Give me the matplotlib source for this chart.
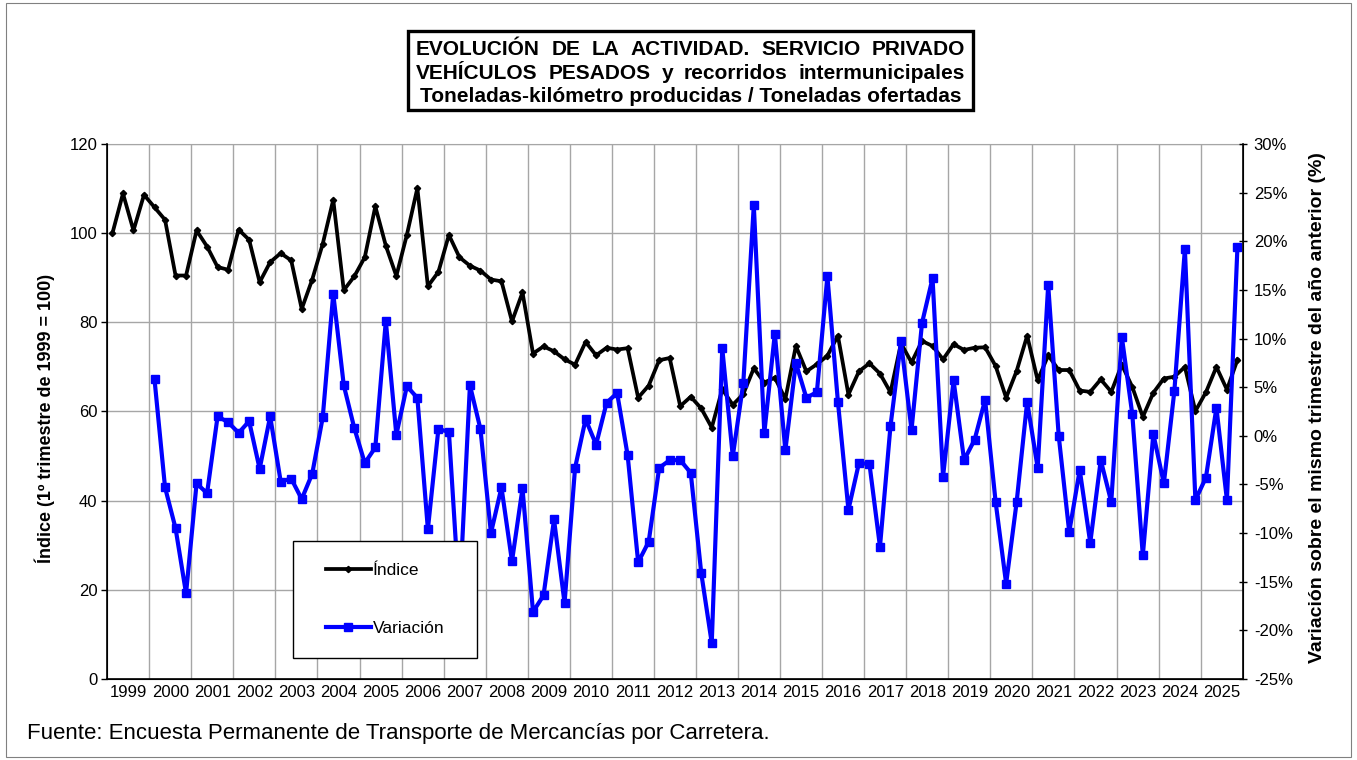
import numpy as np
import matplotlib
matplotlib.use('Agg')
import matplotlib.pyplot as plt
from matplotlib.patches import Rectangle
from matplotlib.ticker import FuncFormatter

plt.rcParams['font.family'] = ['Liberation Sans', 'DejaVu Sans']

# datos trimestrales 1999T1 - 2025T4
years = [str(y) for y in range(1999, 2026)]

indice = [
    100.0, 108.9, 100.6, 108.6,   # 1999
    105.8, 103.0, 90.5, 90.5,     # 2000
    100.6, 97.0, 92.4, 91.8,      # 2001
    100.8, 98.5, 89.0, 93.5,      # 2002
    95.5, 93.9, 83.0, 89.6,       # 2003
    97.6, 107.5, 87.2, 90.3,      # 2004
    94.6, 106.0, 97.2, 90.4,      # 2005
    99.6, 110.1, 88.1, 91.3,      # 2006
    99.6, 94.6, 92.7, 91.6,       # 2007
    89.6, 89.2, 80.2, 86.7,       # 2008
    73.0, 74.6, 73.5, 71.7,       # 2009
    70.5, 75.6, 72.6, 74.3,       # 2010
    73.9, 74.2, 63.1, 65.8,       # 2011
    71.5, 72.0, 61.2, 63.3,       # 2012
    60.7, 56.4, 65.0, 61.5,       # 2013
    63.9, 69.7, 66.5, 67.6,       # 2014
    62.8, 74.7, 69.0, 70.6,       # 2015
    72.5, 77.0, 63.8, 69.0,       # 2016
    70.8, 68.5, 64.3, 75.3,       # 2017
    71.0, 75.8, 74.7, 71.7,       # 2018
    75.1, 73.8, 74.3, 74.4,       # 2019
    70.2, 63.1, 69.1, 77.0,       # 2020
    67.0, 72.6, 69.3, 69.3,       # 2021
    64.7, 64.4, 67.2, 64.4,       # 2022
    70.5, 65.5, 58.8, 64.2,       # 2023
    67.4, 67.8, 70.0, 60.1,       # 2024
    64.3, 70.0, 64.9, 71.6,       # 2025
]

# variacion interanual (%), empieza en 2000T1
variacion = [
    np.nan, np.nan, np.nan, np.nan,  # 1999
    5.8, -5.3, -9.5, -16.2,
    -4.9, -5.9, 2.0, 1.4,
    0.3, 1.5, -3.4, 2.0,
    -4.7, -4.4, -6.5, -3.9,
    1.9, 14.6, 5.2, 0.8,
    -2.8, -1.2, 11.8, 0.1,
    5.1, 3.9, -9.6, 0.7,
    0.4, -16.9, 5.2, 0.7,
    -10.0, -5.3, -12.9, -5.4,
    -18.1, -16.4, -8.6, -17.2,
    -3.3, 1.7, -0.9, 3.4,
    4.4, -2.0, -13.0, -10.9,
    -3.3, -2.5, -2.5, -3.8,
    -14.1, -21.3, 9.0, -2.1,
    5.4, 23.7, 0.3, 10.5,
    -1.5, 7.5, 3.9, 4.5,
    16.4, 3.5, -7.6, -2.8,
    -2.9, -11.4, 1.0, 9.7,
    0.6, 11.6, 16.2, -4.2,
    5.7, -2.5, -0.4, 3.7,
    -6.8, -15.2, -6.8, 3.5,
    -3.3, 15.5, 0.0, -9.9,
    -3.5, -11.0, -2.5, -6.8,
    10.2, 2.2, -12.3, 0.2,
    -4.9, 4.6, 19.2, -6.6,
    -4.3, 2.9, -6.6, 19.4,
]

W, H = 1357, 760
fig = plt.figure(figsize=(W / 100, H / 100), dpi=100)

# marco exterior
fig.patches.append(Rectangle((6 / W, 3 / H), 1 - 12 / W, 1 - 6 / H, transform=fig.transFigure,
                             fill=False, ec='#808080', lw=0.8))

ax = fig.add_axes([107.2 / W, 1 - 679 / H, (1242.7 - 107.2) / W, (679 - 144) / H])
x = np.arange(len(indice))

l1, = ax.plot(x, indice, color='black', lw=2.7, marker='D', ms=3.2, label='Índice')
ax.set_xlim(-0.5, len(indice) - 0.5)
ax.set_ylim(0, 120)
ax.set_yticks(range(0, 121, 20))
ax.set_xticks([4 * k + 1.5 for k in range(len(years))], labels=years)
ax.set_xticks([4 * k - 0.5 for k in range(1, len(years))], minor=True)
ax.tick_params(axis='x', which='both', length=0, pad=4, labelsize=12)
ax.tick_params(axis='y', length=4, width=1, pad=3, labelsize=12)
ax.grid(axis='y', which='major', color='#a6a6a6', lw=1)
ax.grid(axis='x', which='minor', color='#a6a6a6', lw=1)
ax.set_axisbelow(True)
for s in ['left', 'bottom']:
    ax.spines[s].set_linewidth(1.2)
ax.spines['top'].set_color('#a6a6a6')

ax2 = ax.twinx()
l2, = ax2.plot(x, variacion, color='#0000ff', lw=3.0, marker='s', ms=5.5, label='Variación')
ax2.set_ylim(-25, 30)
ax2.set_yticks(range(-25, 31, 5))
ax2.yaxis.set_major_formatter(FuncFormatter(lambda v, p: '%d%%' % v))
ax2.tick_params(axis='y', direction='inout', length=6, width=1, pad=5, labelsize=12)
ax2.spines['right'].set_linewidth(1.2)
ax2.spines['top'].set_visible(False)

# leyenda con su recuadro
ax2.add_patch(Rectangle((0.1636, 0.039), 0.162, 0.219, transform=ax2.transAxes,
                        fc='white', ec='black', lw=1, zorder=5))
leg = ax2.legend([l1, l2], ['Índice', 'Variación'], loc='center', bbox_to_anchor=(0.2447, 0.1486),
                 frameon=False, fontsize=12.5, labelspacing=2.5, handlelength=2.6,
                 handletextpad=0.1, borderpad=0, borderaxespad=0)
leg.set_zorder(6)

fig.text(45 / W, 1 - 418 / H, 'Índice (1º trimestre de 1999 = 100)', rotation=90,
         ha='center', va='center', fontsize=13, fontweight='bold')
fig.text(1318 / W, 1 - 408 / H, 'Variación sobre el mismo trimestre del año anterior (%)',
         rotation=90, ha='center', va='center', fontsize=14, fontweight='bold')

fig.text(27 / W, 1 - 733 / H, 'Fuente: Encuesta Permanente de Transporte de Mercancías por Carretera.',
         ha='left', va='center', fontsize=16)

# titulo en recuadro, lineas justificadas
fig.patches.append(Rectangle((408 / W, 1 - 110 / H), 565 / W, 79 / H, transform=fig.transFigure,
                             fill=False, ec='black', lw=2.4))
renderer = fig.canvas.get_renderer()
TITLE_FS = 15


def justify(words, x0, x1, ybase):
    ts = [fig.text(0, 1 - ybase / H, w, ha='left', va='baseline', fontsize=TITLE_FS, fontweight='bold')
          for w in words]
    ws = [t.get_window_extent(renderer).width for t in ts]
    gap = (x1 - x0 - sum(ws)) / (len(ws) - 1)
    pos = x0
    for t, w in zip(ts, ws):
        t.set_x(pos / W)
        pos += w + gap


justify(['EVOLUCIÓN', 'DE', 'LA', 'ACTIVIDAD.', 'SERVICIO', 'PRIVADO'], 416, 965, 55)
justify(['VEHÍCULOS', 'PESADOS', 'y', 'recorridos', 'intermunicipales'], 416, 965, 79)
fig.text(690.5 / W, 1 - 102 / H, 'Toneladas-kilómetro producidas / Toneladas ofertadas',
         ha='center', va='baseline', fontsize=TITLE_FS, fontweight='bold')

fig.savefig('out.png', dpi=100)
